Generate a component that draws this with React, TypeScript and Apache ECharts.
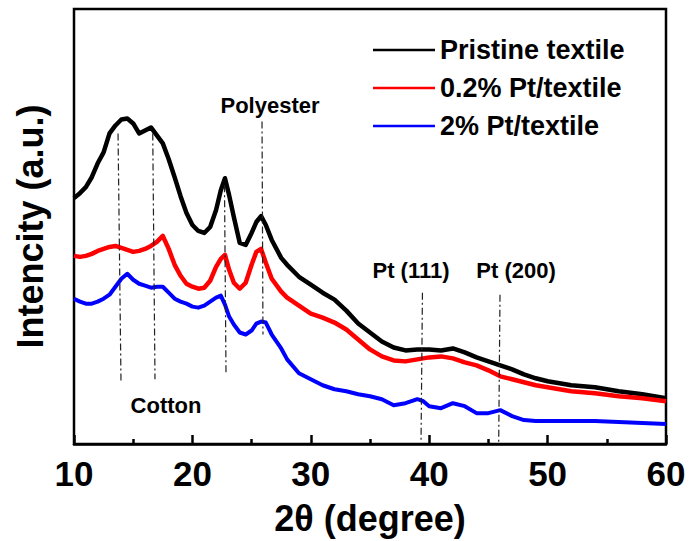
import React, { useEffect, useRef } from "react";
import * as echarts from "echarts";

// 2θ sampling positions (degree)
const angles = [
  10, 10.5, 11, 11.5, 12, 12.5, 13, 13.5, 14, 14.5, 15, 15.5, 16, 16.5, 17, 17.5, 18, 18.5, 19, 19.5, 20, 20.5, 21, 21.5, 22,
  22.4, 22.75, 23.1, 23.5,
  24, 24.5, 25,
  25.4, 25.8, 26.2, 26.7, 27.5, 28,
  29, 30, 31, 32, 33, 34, 35, 36, 37, 38, 39,
  39.5,
  40, 41, 42, 43, 44, 45, 46, 47, 48, 49, 50,
  52, 54, 56, 58, 60,
];

// Intensities (a.u., offset for display)
const pristine = [
  247, 252, 258, 268, 282, 293, 312, 320, 326, 327, 322, 312, 315, 318, 310, 302, 286, 268, 249, 232, 220, 214, 212, 218, 235,
  255, 267, 250, 228,
  202, 200, 212,
  223, 229, 220, 205, 187, 180,
  168, 160, 152, 145, 134, 121, 112, 103, 97, 94, 95,
  95,
  95, 94, 96, 92, 87, 83, 79, 75, 70, 66, 63,
  59, 57, 53, 50, 46,
];

const pt02 = [
  189, 188, 189, 191, 194, 196, 198, 199, 197, 195, 193, 194, 196, 199, 203, 209, 196, 180, 169, 161, 158, 156, 157, 164, 178,
  186, 190, 175, 162,
  156, 162, 180,
  193, 196, 182, 166, 153, 147,
  139, 131, 127, 122, 115, 105, 95, 88, 84, 83, 85,
  86,
  87, 88, 86, 82, 79, 74, 68, 65, 62, 59, 57,
  53, 51, 48, 46, 43,
];

const pt2 = [
  146, 143, 141, 141, 143, 146, 150, 158, 166, 171, 165, 161, 159, 157, 158, 158, 152, 146, 143, 141, 138, 137, 139, 143, 147,
  149, 140, 128, 120,
  112, 110, 114,
  121, 123, 122, 110, 96, 85,
  71, 65, 59, 55, 53, 50, 48, 45, 39, 41, 45,
  43,
  38, 36, 41, 38, 31, 31, 34, 28, 24, 23, 23,
  23, 23, 22, 21, 20,
];

const seriesNames = ["Pristine textile", "0.2% Pt/textile", "2% Pt/textile"];
const seriesColors = ["#000000", "#ff0000", "#0000ff"];

// Reference (dash-dot) lines: [2θ top, I top, 2θ bottom, I bottom]
const guideLines = [
  [13.72, 312, 13.97, 62],
  [16.65, 312, 16.84, 65],
  [22.71, 260, 22.84, 69],
  [25.88, 324, 25.96, 110],
  [39.43, 152, 39.31, 2],
  [45.98, 150, 45.87, 2],
];

const annotationTexts = ["Polyester", "Cotton", "Pt (111)", "Pt (200)"];

const FONT = "'Liberation Sans', Arial, Helvetica, sans-serif";

export default function App() {
  const ref = useRef<HTMLDivElement>(null);
  useEffect(() => {
    if (!ref.current) return;
    const chart = echarts.init(ref.current, undefined, { renderer: "svg" });
    const datasets = [pristine, pt02, pt2];
    const widths = [4.5, 4.5, 4];
    const annPos = [
      [270, 105],
      [166, 405],
      [411, 270],
      [516, 270],
    ];
    chart.setOption({
      animation: false,
      backgroundColor: "#ffffff",
      grid: {
        left: 74,
        right: 24,
        top: 9,
        bottom: 95,
        show: true,
        borderColor: "#000",
        borderWidth: 2.5,
      },
      legend: {
        data: seriesNames,
        orient: "vertical",
        left: 368,
        top: 30,
        itemWidth: 62,
        itemHeight: 2.5,
        itemGap: 8,
        icon: "rect",
        selectedMode: false,
        textStyle: {
          fontSize: 27,
          fontWeight: "bold",
          color: "#000",
          fontFamily: FONT,
          lineHeight: 30,
        },
      },
      xAxis: {
        type: "value",
        min: 10,
        max: 60,
        interval: 10,
        name: "2θ (degree)",
        nameLocation: "middle",
        nameGap: 56,
        nameTextStyle: { fontSize: 36, fontWeight: "bold", color: "#000", fontFamily: FONT },
        axisLine: { show: true, lineStyle: { color: "#000", width: 2.5 } },
        axisTick: { show: true, inside: true, length: 9, lineStyle: { color: "#000", width: 2.5 } },
        minorTick: { show: true, splitNumber: 2, length: 5, lineStyle: { color: "#000", width: 2.5 } },
        axisLabel: { fontSize: 35, fontWeight: "bold", color: "#000", margin: 12, fontFamily: FONT },
        splitLine: { show: false },
      },
      yAxis: {
        type: "value",
        min: 0,
        max: 437,
        name: "Intencity (a.u.)",
        nameLocation: "middle",
        nameRotate: 90,
        nameGap: 26,
        nameTextStyle: { fontSize: 36, fontWeight: "bold", color: "#000", fontFamily: FONT },
        axisLine: { show: false },
        axisTick: { show: false },
        axisLabel: { show: false },
        splitLine: { show: false },
      },
      series: datasets.map((vals, si) => ({
        name: seriesNames[si],
        type: "line",
        showSymbol: false,
        symbol: "none",
        color: seriesColors[si],
        lineStyle: { color: seriesColors[si], width: widths[si], join: "round" },
        data: angles.map((a, i) => [a, vals[i]]),
        z: 2 + si,
        ...(si === 2
          ? {
              markLine: {
                silent: true,
                symbol: ["none", "none"],
                label: { show: false },
                lineStyle: { color: "#222", width: 1.2, type: [7, 3, 2, 3] },
                data: guideLines.map((g) => [
                  { coord: [g[0], g[1]] },
                  { coord: [g[2], g[3]] },
                ]),
              },
            }
          : {}),
      })),
      graphic: annotationTexts.map((t, i) => ({
        type: "text",
        x: annPos[i][0],
        y: annPos[i][1],
        silent: true,
        style: {
          text: t,
          fill: "#000",
          font: `bold 22px ${FONT}`,
          align: "center",
          verticalAlign: "middle",
        },
      })),
    });
    return () => chart.dispose();
  }, []);
  return (
    <div
      ref={ref}
      style={{ position: "absolute", left: 0, top: 0, width: 690, height: 541 }}
    />
  );
}
